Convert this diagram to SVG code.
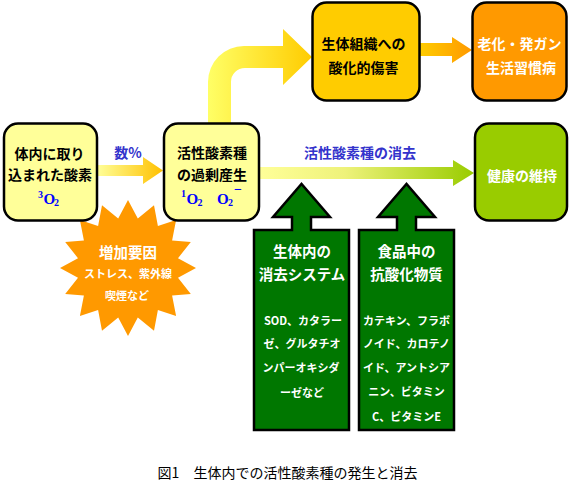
<svg xmlns="http://www.w3.org/2000/svg" width="574" height="481" viewBox="0 0 574 481">
<style>
text{font-family:"Noto Sans CJK JP","Noto Sans",sans-serif;dominant-baseline:central;text-anchor:middle}
.b{font-weight:bold;font-size:14px}
.w{fill:#fff}
.bl{fill:#3333cc;font-weight:bold;font-size:14px}
.s{font-weight:bold;font-size:11px;fill:#fff}
.box{stroke:#000;stroke-width:2.5}
.ser{font-family:"Liberation Serif",serif;fill:#0000ff;font-weight:bold;dominant-baseline:alphabetic;text-anchor:start}
.ga{fill:#007700;stroke:#000;stroke-width:2.5}
</style>
<defs>
<linearGradient id="g1" gradientUnits="userSpaceOnUse" x1="97" y1="0" x2="163" y2="0"><stop offset="0" stop-color="#ffff99"/><stop offset="1" stop-color="#ffc000"/></linearGradient>
<linearGradient id="g2" gradientUnits="userSpaceOnUse" x1="208" y1="0" x2="312" y2="0"><stop offset="0" stop-color="#ffff66"/><stop offset="1" stop-color="#ffcc00"/></linearGradient>
<linearGradient id="g3" gradientUnits="userSpaceOnUse" x1="420" y1="0" x2="472" y2="0"><stop offset="0" stop-color="#ffcc00"/><stop offset="1" stop-color="#ff9900"/></linearGradient>
<linearGradient id="g4" gradientUnits="userSpaceOnUse" x1="259" y1="0" x2="474" y2="0"><stop offset="0" stop-color="#ffff99"/><stop offset="0.4" stop-color="#eef27a"/><stop offset="1" stop-color="#99cc00"/></linearGradient>
</defs>

<g id="connectors">
<path d="M96,165 L143,165 L143,157 L163,170.5 L143,184 L143,176 L96,176 Z" fill="url(#g1)"/>
<path d="M208,124 L208,82 A36,36 0 0 1 244,46 L283,46 L283,29 L312,57 L283,85 L283,68 L245,68 A14,14 0 0 0 231,82 L231,124 Z" fill="url(#g2)"/>
<path d="M419,43 L452,43 L452,37 L472,50 L452,63 L452,56 L419,56 Z" fill="url(#g3)"/>
<path d="M258,167 L453,167 L453,160 L474,173 L453,186 L453,179 L258,179 Z" fill="url(#g4)"/>
<text class="bl" x="128" y="152">数%</text>
<text class="bl" x="360" y="152">活性酸素種の消去</text>
</g>

<g id="starburst">
<polygon fill="#ff9900" points="128.0,200.0 137.8,218.6 154.0,205.2 157.9,225.9 176.1,219.9 172.1,240.5 190.8,242.0 178.0,258.2 196.0,268.0 178.0,277.8 190.8,294.0 172.1,295.5 176.1,316.1 157.9,310.1 154.0,330.8 137.8,317.4 128.0,336.0 118.2,317.4 102.0,330.8 98.1,310.1 79.9,316.1 83.9,295.5 65.2,294.0 78.0,277.8 60.0,268.0 78.0,258.2 65.2,242.0 83.9,240.5 79.9,219.9 98.1,225.9 102.0,205.2 118.2,218.6"/>
<text class="b w" x="128" y="251" style="font-size:14.5px">増加要因</text>
<text class="s" x="128" y="273">ストレス、紫外線</text>
<text class="s" x="127" y="295">喫煙など</text>
</g>

<g id="node-oxygen">
<rect class="box" x="4" y="123.5" width="93" height="97" rx="14" fill="#ffff99"/>
<text class="b" x="49.5" y="152.5">体内に取り</text>
<text class="b" x="50" y="173.5">込まれた酸素</text>
<text class="ser" x="38" y="198" font-size="10">3</text>
<text class="ser" x="43.5" y="203.5" font-size="15">O</text>
<text class="ser" x="54" y="205.5" font-size="10">2</text>
</g>

<g id="node-ros">
<rect class="box" x="164" y="123.5" width="95" height="97" rx="14" fill="#ffff99"/>
<text class="b" x="212" y="152">活性酸素種</text>
<text class="b" x="212" y="173.5">の過剰産生</text>
<text class="ser" x="181" y="197" font-size="10">1</text>
<text class="ser" x="186.5" y="203.5" font-size="15">O</text>
<text class="ser" x="197.5" y="205.5" font-size="10">2</text>
<text class="ser" x="217" y="203.5" font-size="15">O</text>
<text class="ser" x="228" y="205.5" font-size="10">2</text>
<text class="ser" x="234" y="194" font-size="14">−</text>
</g>

<g id="node-damage">
<rect class="box" x="312.5" y="2.5" width="107" height="98" rx="14" fill="#ffcc00"/>
<text class="b" x="363.5" y="43">生体組織への</text>
<text class="b" x="363.5" y="67">酸化的傷害</text>
</g>

<g id="node-disease">
<rect class="box" x="472.5" y="2.5" width="94" height="98" rx="14" fill="#ff9900"/>
<text class="b w" x="519.5" y="43">老化・発ガン</text>
<text class="b w" x="521" y="67">生活習慣病</text>
</g>

<g id="node-health">
<rect class="box" x="475" y="123.5" width="92" height="97" rx="14" fill="#99cc00"/>
<text class="b w" x="522" y="175">健康の維持</text>
</g>

<g id="node-internal">
<path class="ga" d="M254,230 L292,230 L292,217 L273,217 L301.5,184 L330,217 L311,217 L311,230 L349,230 L349,430 L254,430 Z"/>
<text class="b w" x="302" y="250" style="font-size:14.5px">生体内の</text>
<text class="b w" x="302" y="273" style="font-size:14.5px">消去システム</text>
<text class="s" x="303" y="320">SOD、カタラー</text>
<text class="s" x="302" y="343">ゼ、グルタチオ</text>
<text class="s" x="301" y="367">ンパーオキシダ</text>
<text class="s" x="302" y="391.5">ーゼなど</text>
</g>

<g id="node-food">
<path class="ga" d="M359,230 L397,230 L397,217 L378,217 L406.5,184 L435,217 L416,217 L416,230 L454,230 L454,430 L359,430 Z"/>
<text class="b w" x="406.5" y="250" style="font-size:14.5px">食品中の</text>
<text class="b w" x="406.5" y="273" style="font-size:14.5px">抗酸化物質</text>
<text class="s" x="406.5" y="320">カテキン、フラボ</text>
<text class="s" x="406.5" y="343">ノイド、カロテノ</text>
<text class="s" x="406.5" y="367">イド、アントシア</text>
<text class="s" x="406.5" y="391">ニン、ビタミン</text>
<text class="s" x="406.5" y="416">C、ビタミンE</text>
</g>

<text x="287.5" y="471.5" style="font-size:14px">図1　生体内での活性酸素種の発生と消去</text>
</svg>
